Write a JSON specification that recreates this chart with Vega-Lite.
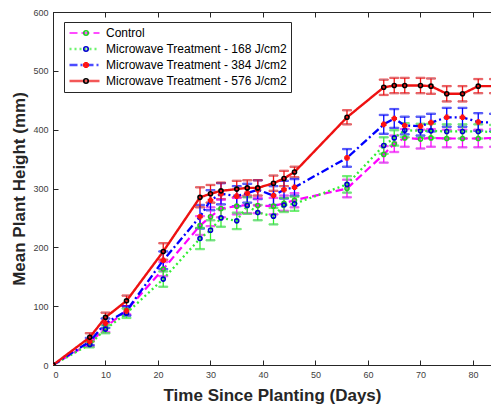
{
  "$schema": "https://vega.github.io/schema/vega-lite/v6.json",
  "width": 438,
  "height": 353,
  "autosize": {"type": "none"},
  "padding": {"left": 53, "top": 12, "right": 0, "bottom": 42},
  "background": "white",
  "config": {
    "font": "Liberation Sans",
    "view": {"stroke": "#262626", "strokeWidth": 1},
    "axis": {
      "grid": false,
      "domainColor": "#262626",
      "tickColor": "#262626",
      "tickSize": -5,
      "labelColor": "#404040",
      "labelFont": "Liberation Sans",
      "labelFontSize": 9,
      "labelPadding": 10,
      "titleFont": "Liberation Sans",
      "titleFontSize": 17,
      "titleFontWeight": "bold",
      "titleColor": "#262626"
    },
    "legend": {
      "title": null,
      "orient": "none",
      "legendY": 10,
      "clipHeight": 14,
      "labelFont": "Liberation Sans",
      "labelFontSize": 12,
      "labelColor": "#000000",
      "labelOffset": 5,
      "labelLimit": 0,
      "padding": 4,
      "rowPadding": 2
    }
  },
  "data": {
    "values": [
      {"series": "Control", "day": 0, "mean": 0, "err": 0},
      {"series": "Control", "day": 7, "mean": 37, "err": 5},
      {"series": "Control", "day": 10, "mean": 64, "err": 8},
      {"series": "Control", "day": 14, "mean": 93, "err": 7},
      {"series": "Control", "day": 21, "mean": 163, "err": 12},
      {"series": "Control", "day": 28, "mean": 237, "err": 16},
      {"series": "Control", "day": 30, "mean": 252, "err": 16},
      {"series": "Control", "day": 32, "mean": 266, "err": 15},
      {"series": "Control", "day": 35, "mean": 270, "err": 14},
      {"series": "Control", "day": 37, "mean": 272, "err": 14},
      {"series": "Control", "day": 39, "mean": 271, "err": 13},
      {"series": "Control", "day": 42, "mean": 270, "err": 14},
      {"series": "Control", "day": 44, "mean": 275, "err": 13},
      {"series": "Control", "day": 46, "mean": 280, "err": 12},
      {"series": "Control", "day": 56, "mean": 300, "err": 15},
      {"series": "Control", "day": 63, "mean": 358, "err": 14},
      {"series": "Control", "day": 65, "mean": 376, "err": 14},
      {"series": "Control", "day": 67, "mean": 386, "err": 15},
      {"series": "Control", "day": 70, "mean": 384, "err": 16},
      {"series": "Control", "day": 72, "mean": 386, "err": 15},
      {"series": "Control", "day": 75, "mean": 385, "err": 15},
      {"series": "Control", "day": 78, "mean": 385, "err": 15},
      {"series": "Control", "day": 81, "mean": 385, "err": 15},
      {"series": "Control", "day": 84, "mean": 386, "err": 15},
      {"series": "Microwave Treatment - 168 J/cm2", "day": 0, "mean": 0, "err": 0},
      {"series": "Microwave Treatment - 168 J/cm2", "day": 7, "mean": 35, "err": 5},
      {"series": "Microwave Treatment - 168 J/cm2", "day": 10, "mean": 61, "err": 7},
      {"series": "Microwave Treatment - 168 J/cm2", "day": 14, "mean": 88, "err": 8},
      {"series": "Microwave Treatment - 168 J/cm2", "day": 21, "mean": 146, "err": 13},
      {"series": "Microwave Treatment - 168 J/cm2", "day": 28, "mean": 215, "err": 18},
      {"series": "Microwave Treatment - 168 J/cm2", "day": 30, "mean": 229, "err": 17},
      {"series": "Microwave Treatment - 168 J/cm2", "day": 32, "mean": 250, "err": 15},
      {"series": "Microwave Treatment - 168 J/cm2", "day": 35, "mean": 245, "err": 14},
      {"series": "Microwave Treatment - 168 J/cm2", "day": 37, "mean": 271, "err": 14},
      {"series": "Microwave Treatment - 168 J/cm2", "day": 39, "mean": 259, "err": 13},
      {"series": "Microwave Treatment - 168 J/cm2", "day": 42, "mean": 253, "err": 14},
      {"series": "Microwave Treatment - 168 J/cm2", "day": 44, "mean": 272, "err": 12},
      {"series": "Microwave Treatment - 168 J/cm2", "day": 46, "mean": 274, "err": 12},
      {"series": "Microwave Treatment - 168 J/cm2", "day": 56, "mean": 307, "err": 14},
      {"series": "Microwave Treatment - 168 J/cm2", "day": 63, "mean": 373, "err": 14},
      {"series": "Microwave Treatment - 168 J/cm2", "day": 65, "mean": 386, "err": 13},
      {"series": "Microwave Treatment - 168 J/cm2", "day": 67, "mean": 399, "err": 12},
      {"series": "Microwave Treatment - 168 J/cm2", "day": 70, "mean": 398, "err": 12},
      {"series": "Microwave Treatment - 168 J/cm2", "day": 72, "mean": 398, "err": 12},
      {"series": "Microwave Treatment - 168 J/cm2", "day": 75, "mean": 397, "err": 12},
      {"series": "Microwave Treatment - 168 J/cm2", "day": 78, "mean": 397, "err": 12},
      {"series": "Microwave Treatment - 168 J/cm2", "day": 81, "mean": 397, "err": 12},
      {"series": "Microwave Treatment - 168 J/cm2", "day": 84, "mean": 396, "err": 12},
      {"series": "Microwave Treatment - 384 J/cm2", "day": 0, "mean": 0, "err": 0},
      {"series": "Microwave Treatment - 384 J/cm2", "day": 7, "mean": 40, "err": 6},
      {"series": "Microwave Treatment - 384 J/cm2", "day": 10, "mean": 71, "err": 8},
      {"series": "Microwave Treatment - 384 J/cm2", "day": 14, "mean": 92, "err": 8},
      {"series": "Microwave Treatment - 384 J/cm2", "day": 21, "mean": 178, "err": 15},
      {"series": "Microwave Treatment - 384 J/cm2", "day": 28, "mean": 252, "err": 20},
      {"series": "Microwave Treatment - 384 J/cm2", "day": 30, "mean": 280, "err": 17},
      {"series": "Microwave Treatment - 384 J/cm2", "day": 32, "mean": 291, "err": 18},
      {"series": "Microwave Treatment - 384 J/cm2", "day": 35, "mean": 287, "err": 17},
      {"series": "Microwave Treatment - 384 J/cm2", "day": 37, "mean": 292, "err": 16},
      {"series": "Microwave Treatment - 384 J/cm2", "day": 39, "mean": 298, "err": 16},
      {"series": "Microwave Treatment - 384 J/cm2", "day": 42, "mean": 288, "err": 16},
      {"series": "Microwave Treatment - 384 J/cm2", "day": 44, "mean": 298, "err": 15},
      {"series": "Microwave Treatment - 384 J/cm2", "day": 46, "mean": 302, "err": 14},
      {"series": "Microwave Treatment - 384 J/cm2", "day": 56, "mean": 352, "err": 15},
      {"series": "Microwave Treatment - 384 J/cm2", "day": 63, "mean": 409, "err": 16},
      {"series": "Microwave Treatment - 384 J/cm2", "day": 65, "mean": 419, "err": 16},
      {"series": "Microwave Treatment - 384 J/cm2", "day": 67, "mean": 407, "err": 15},
      {"series": "Microwave Treatment - 384 J/cm2", "day": 70, "mean": 406, "err": 16},
      {"series": "Microwave Treatment - 384 J/cm2", "day": 72, "mean": 412, "err": 15},
      {"series": "Microwave Treatment - 384 J/cm2", "day": 75, "mean": 421, "err": 16},
      {"series": "Microwave Treatment - 384 J/cm2", "day": 78, "mean": 421, "err": 16},
      {"series": "Microwave Treatment - 384 J/cm2", "day": 81, "mean": 413, "err": 15},
      {"series": "Microwave Treatment - 384 J/cm2", "day": 84, "mean": 412, "err": 15},
      {"series": "Microwave Treatment - 576 J/cm2", "day": 0, "mean": 0, "err": 0},
      {"series": "Microwave Treatment - 576 J/cm2", "day": 7, "mean": 47, "err": 7},
      {"series": "Microwave Treatment - 576 J/cm2", "day": 10, "mean": 81, "err": 8},
      {"series": "Microwave Treatment - 576 J/cm2", "day": 14, "mean": 109, "err": 9},
      {"series": "Microwave Treatment - 576 J/cm2", "day": 21, "mean": 193, "err": 14},
      {"series": "Microwave Treatment - 576 J/cm2", "day": 28, "mean": 285, "err": 17},
      {"series": "Microwave Treatment - 576 J/cm2", "day": 30, "mean": 291, "err": 15},
      {"series": "Microwave Treatment - 576 J/cm2", "day": 32, "mean": 296, "err": 14},
      {"series": "Microwave Treatment - 576 J/cm2", "day": 35, "mean": 299, "err": 14},
      {"series": "Microwave Treatment - 576 J/cm2", "day": 37, "mean": 301, "err": 13},
      {"series": "Microwave Treatment - 576 J/cm2", "day": 39, "mean": 301, "err": 13},
      {"series": "Microwave Treatment - 576 J/cm2", "day": 42, "mean": 309, "err": 13},
      {"series": "Microwave Treatment - 576 J/cm2", "day": 44, "mean": 317, "err": 13},
      {"series": "Microwave Treatment - 576 J/cm2", "day": 46, "mean": 328, "err": 9},
      {"series": "Microwave Treatment - 576 J/cm2", "day": 56, "mean": 421, "err": 12},
      {"series": "Microwave Treatment - 576 J/cm2", "day": 63, "mean": 472, "err": 13},
      {"series": "Microwave Treatment - 576 J/cm2", "day": 65, "mean": 475, "err": 13},
      {"series": "Microwave Treatment - 576 J/cm2", "day": 67, "mean": 475, "err": 13},
      {"series": "Microwave Treatment - 576 J/cm2", "day": 70, "mean": 475, "err": 13},
      {"series": "Microwave Treatment - 576 J/cm2", "day": 72, "mean": 474, "err": 13},
      {"series": "Microwave Treatment - 576 J/cm2", "day": 75, "mean": 461, "err": 13},
      {"series": "Microwave Treatment - 576 J/cm2", "day": 78, "mean": 461, "err": 13},
      {"series": "Microwave Treatment - 576 J/cm2", "day": 81, "mean": 474, "err": 12},
      {"series": "Microwave Treatment - 576 J/cm2", "day": 84, "mean": 474, "err": 12}
    ]
  },
  "resolve": {"axis": {"x": "independent"}},
  "layer": [
    {
      "transform": [{"filter": "datum.err > 0"}],
      "mark": {"type": "errorbar", "ticks": {"size": 9, "thickness": 1.3}, "rule": {"strokeWidth": 1.3}, "clip": true},
      "encoding": {
        "x": {"field": "day", "type": "quantitative", "scale": {"domain": [0, 83.43], "nice": false, "zero": false}, "axis": null},
        "y": {
          "field": "mean", "type": "quantitative",
          "scale": {"domain": [0, 600], "nice": false},
          "axis": {"values": [0, 100, 200, 300, 400, 500, 600], "title": "Mean Plant Height (mm)", "titlePadding": 4}
        },
        "yError": {"field": "err"},
        "stroke": {
          "field": "series", "type": "nominal",
          "scale": {
            "domain": ["Control", "Microwave Treatment - 168 J/cm2", "Microwave Treatment - 384 J/cm2", "Microwave Treatment - 576 J/cm2"],
            "range": ["#ff00ff", "#33ee33", "#0000ff", "#ee1111"]
          },
          "legend": {"legendX": 11, "symbolType": "stroke", "symbolSize": 900, "strokeColor": "#262626"}
        }
      }
    },
    {
      "mark": {"type": "line", "clip": true},
      "encoding": {
        "x": {
          "field": "day", "type": "quantitative",
          "scale": {"domain": [0, 83.43], "nice": false, "zero": false},
          "axis": {"values": [0, 10, 20, 30, 40, 50, 60, 70, 80], "title": "Time Since Planting (Days)", "titlePadding": 8}
        },
        "y": {
          "field": "mean", "type": "quantitative",
          "scale": {"domain": [0, 600], "nice": false},
          "axis": {"values": [0, 100, 200, 300, 400, 500, 600], "title": "Mean Plant Height (mm)", "titlePadding": 4}
        },
        "order": {"field": "day", "type": "quantitative"},
        "stroke": {
          "field": "series", "type": "nominal",
          "scale": {
            "domain": ["Control", "Microwave Treatment - 168 J/cm2", "Microwave Treatment - 384 J/cm2", "Microwave Treatment - 576 J/cm2"],
            "range": ["#ff00ff", "#33ee33", "#0000ff", "#ee1111"]
          },
          "legend": {"legendX": 11, "symbolType": "stroke", "symbolSize": 900, "strokeColor": "#262626"}
        },
        "strokeDash": {
          "field": "series", "type": "nominal",
          "scale": {
            "domain": ["Control", "Microwave Treatment - 168 J/cm2", "Microwave Treatment - 384 J/cm2", "Microwave Treatment - 576 J/cm2"],
            "range": [[8, 4], [2, 3], [8, 3, 2, 3], [1, 0]]
          },
          "legend": {"legendX": 11, "symbolType": "stroke", "symbolSize": 900, "strokeColor": "#262626"}
        },
        "strokeWidth": {
          "field": "series", "type": "nominal",
          "scale": {
            "domain": ["Control", "Microwave Treatment - 168 J/cm2", "Microwave Treatment - 384 J/cm2", "Microwave Treatment - 576 J/cm2"],
            "range": [2.2, 2.4, 2.6, 1.2]
          },
          "legend": {"legendX": 11, "symbolType": "stroke", "symbolSize": 900, "strokeColor": "#262626"}
        }
      }
    },
    {
      "mark": {"type": "point", "filled": false, "size": 16, "strokeWidth": 1.6, "opacity": 1, "clip": true},
      "encoding": {
        "x": {
          "field": "day", "type": "quantitative",
          "scale": {"domain": [0, 83.43], "nice": false, "zero": false},
          "axis": {"orient": "top", "values": [0, 10, 20, 30, 40, 50, 60, 70, 80], "labels": false, "title": null}
        },
        "y": {
          "field": "mean", "type": "quantitative",
          "scale": {"domain": [0, 600], "nice": false},
          "axis": {"values": [0, 100, 200, 300, 400, 500, 600], "title": "Mean Plant Height (mm)", "titlePadding": 4}
        },
        "color": {
          "field": "series", "type": "nominal",
          "scale": {"range": ["#22cc22", "#0000cc", "#ff1010", "#000000"]},
          "legend": {"legendX": 23, "symbolSize": 20, "symbolStrokeWidth": 1.6, "labelExpr": "''"}
        },
        "shape": {
          "field": "series", "type": "nominal",
          "scale": {"range": ["circle", "circle", "cross", "circle"]},
          "legend": {"legendX": 23, "symbolSize": 20, "symbolStrokeWidth": 1.6, "labelExpr": "''"}
        }
      }
    }
  ]
}
